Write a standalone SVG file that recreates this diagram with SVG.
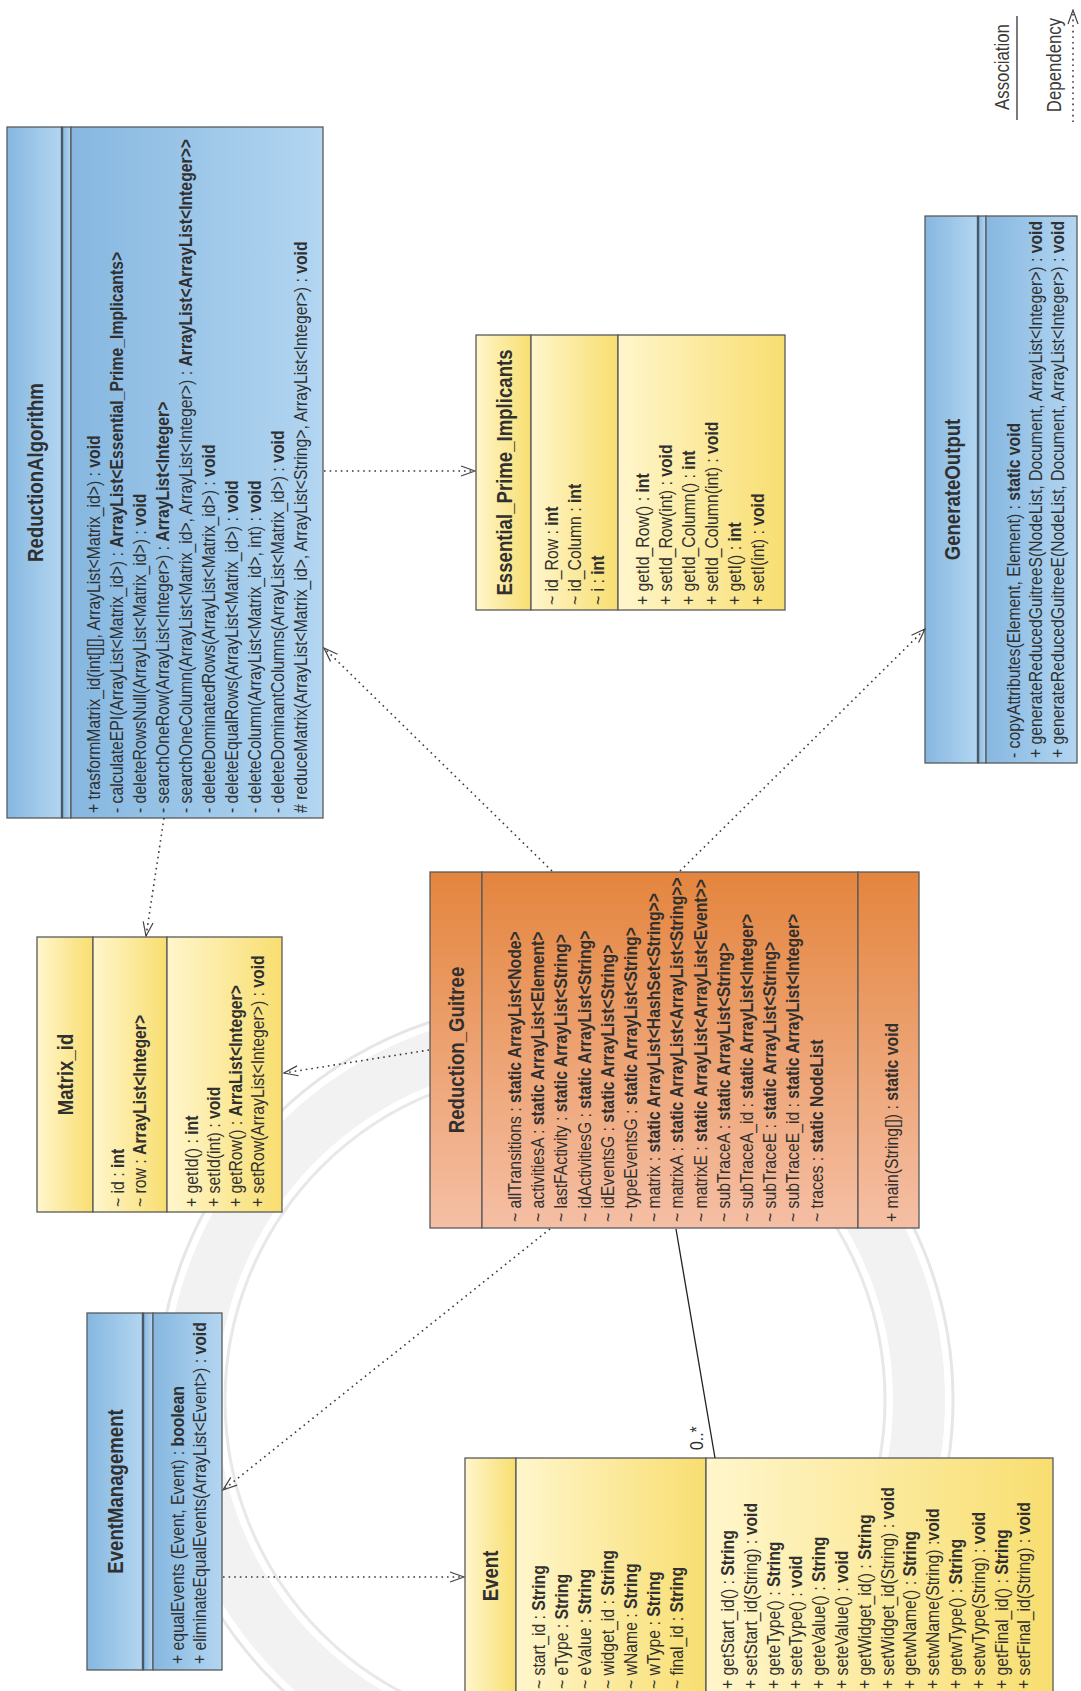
<svg xmlns="http://www.w3.org/2000/svg" width="1081" height="1691" viewBox="0 0 1081 1691">
<style>
text{font-family:"Liberation Sans",Arial,sans-serif;fill:#303030}
.t{font-size:19px}
.b{font-weight:bold}
.ti{font-size:22.7px;font-weight:bold}
.lg{font-size:20.5px;fill:#3a3a3a}
.box{stroke:#5a5a5a;stroke-width:1.3}
.dot{fill:none;stroke:#3a3a3a;stroke-width:1.6;stroke-dasharray:1.6 4}
.sol{fill:none;stroke:#222;stroke-width:1.3}
</style>
<defs>
<linearGradient id="gB" x1="0" y1="0" x2="0" y2="1"><stop offset="0" stop-color="#86b7e0"/><stop offset="1" stop-color="#b3d6f1"/></linearGradient>
<linearGradient id="gY" x1="0" y1="0" x2="0" y2="1"><stop offset="0" stop-color="#fff6cc"/><stop offset="1" stop-color="#f8de70"/></linearGradient>
<linearGradient id="gO" x1="0" y1="0" x2="1" y2="0"><stop offset="0" stop-color="#f5bfa5"/><stop offset="1" stop-color="#e4853e"/></linearGradient>
<marker id="open" markerUnits="userSpaceOnUse" viewBox="0 0 16 12" markerWidth="16" markerHeight="12" refX="15" refY="6" orient="auto"><path d="M1,1 L15,6 L1,11" fill="none" stroke="#444" stroke-width="1.2"/></marker>
</defs>
<rect width="1081" height="1691" fill="#ffffff"/>
<g id="watermark" fill="none">
<circle cx="555" cy="1400" r="398" stroke="#e6e6e6" stroke-width="3"/>
<circle cx="555" cy="1400" r="364" stroke="#f2f2f2" stroke-width="52"/>
<circle cx="555" cy="1400" r="330" stroke="#e8e8e8" stroke-width="3"/>
</g>
<g transform="matrix(0,-1,1,0,0,1691)">
<g id="ReductionAlgorithm">
<rect class="box" x="873" y="7" width="691" height="55" fill="url(#gB)"/>
<rect class="box" x="873" y="62" width="691" height="9" fill="url(#gB)"/>
<rect class="box" x="873" y="71" width="691" height="252" fill="url(#gB)"/>
<line x1="873" y1="62" x2="1564" y2="62" stroke="#4a5866" stroke-width="2.4"/>
<text class="ti" text-anchor="middle" transform="translate(1218.5,43) scale(0.82,1)">ReductionAlgorithm</text>
<g transform="translate(878,0) scale(0.83,1)">
<text class="t" y="100">+ trasformMatrix_id(int[][], ArrayList&lt;Matrix_id&gt;) : <tspan class="b">void</tspan></text>
<text class="t" y="123">- calculateEPI(ArrayList&lt;Matrix_id&gt;) : <tspan class="b">ArrayList&lt;Essential_Prime_Implicants&gt;</tspan></text>
<text class="t" y="146">- deleteRowsNull(ArrayList&lt;Matrix_id&gt;) : <tspan class="b">void</tspan></text>
<text class="t" y="169">- searchOneRow(ArrayList&lt;Integer&gt;) : <tspan class="b">ArrayList&lt;Integer&gt;</tspan></text>
<text class="t" y="192">- searchOneColumn(ArrayList&lt;Matrix_id&gt;, ArrayList&lt;Integer&gt;) : <tspan class="b">ArrayList&lt;ArrayList&lt;Integer&gt;&gt;</tspan></text>
<text class="t" y="215">- deleteDominatedRows(ArrayList&lt;Matrix_id&gt;) : <tspan class="b">void</tspan></text>
<text class="t" y="238">- deleteEqualRows(ArrayList&lt;Matrix_id&gt;) : <tspan class="b">void</tspan></text>
<text class="t" y="261">- deleteColumn(ArrayList&lt;Matrix_id&gt;, int) : <tspan class="b">void</tspan></text>
<text class="t" y="284">- deleteDominantColumns(ArrayList&lt;Matrix_id&gt;) : <tspan class="b">void</tspan></text>
<text class="t" y="307"># reduceMatrix(ArrayList&lt;Matrix_id&gt;, ArrayList&lt;String&gt;, ArrayList&lt;Integer&gt;) : <tspan class="b">void</tspan></text>
</g>
</g>
<g id="Essential_Prime_Implicants">
<rect class="box" x="1081" y="476" width="275" height="55" fill="url(#gY)"/>
<rect class="box" x="1081" y="531" width="275" height="87" fill="url(#gY)"/>
<rect class="box" x="1081" y="618" width="275" height="167" fill="url(#gY)"/>
<text class="ti" text-anchor="middle" transform="translate(1218.5,511.5) scale(0.82,1)">Essential_Prime_Implicants</text>
<g transform="translate(1086,0) scale(0.83,1)">
<text class="t" y="558">~ id_Row : <tspan class="b">int</tspan></text>
<text class="t" y="581">~ id_Column : <tspan class="b">int</tspan></text>
<text class="t" y="604">~ i : <tspan class="b">int</tspan></text>
<text class="t" y="649">+ getId_Row() : <tspan class="b">int</tspan></text>
<text class="t" y="672">+ setId_Row(int) : <tspan class="b">void</tspan></text>
<text class="t" y="695">+ getId_Column() : <tspan class="b">int</tspan></text>
<text class="t" y="718">+ setId_Column(int) : <tspan class="b">void</tspan></text>
<text class="t" y="741">+ getI() : <tspan class="b">int</tspan></text>
<text class="t" y="764">+ setI(int) : <tspan class="b">void</tspan></text>
</g>
</g>
<g id="GenerateOutput">
<rect class="box" x="928" y="925" width="547" height="53" fill="url(#gB)"/>
<rect class="box" x="928" y="978" width="547" height="8" fill="url(#gB)"/>
<rect class="box" x="928" y="986" width="547" height="91" fill="url(#gB)"/>
<line x1="928" y1="978" x2="1475" y2="978" stroke="#4a5866" stroke-width="2.4"/>
<text class="ti" text-anchor="middle" transform="translate(1201.5,959.5) scale(0.82,1)">GenerateOutput</text>
<g transform="translate(933,0) scale(0.83,1)">
<text class="t" y="1020">- copyAttributes(Element, Element) : <tspan class="b">static void</tspan></text>
<text class="t" y="1042">+ generateReducedGuitreeS(NodeList, Document, ArrayList&lt;Integer&gt;) : <tspan class="b">void</tspan></text>
<text class="t" y="1064">+ generateReducedGuitreeE(NodeList, Document, ArrayList&lt;Integer&gt;) : <tspan class="b">void</tspan></text>
</g>
</g>
<g id="Matrix_id">
<rect class="box" x="479" y="37" width="275" height="56" fill="url(#gY)"/>
<rect class="box" x="479" y="93" width="275" height="74" fill="url(#gY)"/>
<rect class="box" x="479" y="167" width="275" height="115" fill="url(#gY)"/>
<text class="ti" text-anchor="middle" transform="translate(616.5,73) scale(0.82,1)">Matrix_id</text>
<g transform="translate(484,0) scale(0.83,1)">
<text class="t" y="124">~ id : <tspan class="b">int</tspan></text>
<text class="t" y="146">~ row : <tspan class="b">ArrayList&lt;Integer&gt;</tspan></text>
<text class="t" y="198">+ getId() : <tspan class="b">int</tspan></text>
<text class="t" y="220">+ setId(int) : <tspan class="b">void</tspan></text>
<text class="t" y="242">+ getRow() : <tspan class="b">ArraList&lt;Integer&gt;</tspan></text>
<text class="t" y="264">+ setRow(ArrayList&lt;Integer&gt;) : <tspan class="b">void</tspan></text>
</g>
</g>
<g id="Reduction_Guitree">
<rect class="box" x="463" y="430" width="356" height="52" fill="url(#gO)"/>
<rect class="box" x="463" y="482" width="356" height="376" fill="url(#gO)"/>
<rect class="box" x="463" y="858" width="356" height="61" fill="url(#gO)"/>
<text class="ti" text-anchor="middle" transform="translate(641,464) scale(0.82,1)">Reduction_Guitree</text>
<g transform="translate(469,0) scale(0.83,1)">
<text class="t" y="521">~ allTransitions : <tspan class="b">static ArrayList&lt;Node&gt;</tspan></text>
<text class="t" y="544.2">~ activitiesA : <tspan class="b">static ArrayList&lt;Element&gt;</tspan></text>
<text class="t" y="567.4">~ lastFActivity : <tspan class="b">static ArrayList&lt;String&gt;</tspan></text>
<text class="t" y="590.6">~ idActivitiesG : <tspan class="b">static ArrayList&lt;String&gt;</tspan></text>
<text class="t" y="613.8">~ idEventsG : <tspan class="b">static ArrayList&lt;String&gt;</tspan></text>
<text class="t" y="637">~ typeEventsG : <tspan class="b">static ArrayList&lt;String&gt;</tspan></text>
<text class="t" y="660.2">~ matrix : <tspan class="b">static ArrayList&lt;HashSet&lt;String&gt;&gt;</tspan></text>
<text class="t" y="683.4">~ matrixA : <tspan class="b">static ArrayList&lt;ArrayList&lt;String&gt;&gt;</tspan></text>
<text class="t" y="706.6">~ matrixE : <tspan class="b">static ArrayList&lt;ArrayList&lt;Event&gt;&gt;</tspan></text>
<text class="t" y="729.8">~ subTraceA : <tspan class="b">static ArrayList&lt;String&gt;</tspan></text>
<text class="t" y="753">~ subTraceA_id : <tspan class="b">static ArrayList&lt;Integer&gt;</tspan></text>
<text class="t" y="776.2">~ subTraceE : <tspan class="b">static ArrayList&lt;String&gt;</tspan></text>
<text class="t" y="799.4">~ subTraceE_id : <tspan class="b">static ArrayList&lt;Integer&gt;</tspan></text>
<text class="t" y="822.6">~ traces : <tspan class="b">static NodeList</tspan></text>
<text class="t" y="898">+ main(String[]) : <tspan class="b">static void</tspan></text>
</g>
</g>
<g id="EventManagement">
<rect class="box" x="21" y="87" width="357" height="56" fill="url(#gB)"/>
<rect class="box" x="21" y="143" width="357" height="10" fill="url(#gB)"/>
<rect class="box" x="21" y="153" width="357" height="69" fill="url(#gB)"/>
<line x1="21" y1="143" x2="378" y2="143" stroke="#4a5866" stroke-width="2.4"/>
<text class="ti" text-anchor="middle" transform="translate(199.5,123) scale(0.82,1)">EventManagement</text>
<g transform="translate(27,0) scale(0.83,1)">
<text class="t" y="184">+ equalEvents (Event, Event) : <tspan class="b">boolean</tspan></text>
<text class="t" y="206">+ eliminateEqualEvents(ArrayList&lt;Event&gt;) : <tspan class="b">void</tspan></text>
</g>
</g>
<g id="Event">
<rect class="box" x="-4" y="465" width="237" height="51" fill="url(#gY)"/>
<rect class="box" x="-4" y="516" width="237" height="190" fill="url(#gY)"/>
<rect class="box" x="-4" y="706" width="237" height="347" fill="url(#gY)"/>
<text class="ti" text-anchor="middle" transform="translate(115,498) scale(0.82,1)">Event</text>
<g transform="translate(2,0) scale(0.83,1)">
<text class="t" y="545">~ start_id : <tspan class="b">String</tspan></text>
<text class="t" y="568">~ eType : <tspan class="b">String</tspan></text>
<text class="t" y="591">~ eValue : <tspan class="b">String</tspan></text>
<text class="t" y="614">~ widget_id : <tspan class="b">String</tspan></text>
<text class="t" y="637">~ wName : <tspan class="b">String</tspan></text>
<text class="t" y="660">~ wType : <tspan class="b">String</tspan></text>
<text class="t" y="683">~ final_id : <tspan class="b">String</tspan></text>
<text class="t" y="734">+ getStart_id() : <tspan class="b">String</tspan></text>
<text class="t" y="756.8">+ setStart_id(String) : <tspan class="b">void</tspan></text>
<text class="t" y="779.6">+ geteType() : <tspan class="b">String</tspan></text>
<text class="t" y="802.4">+ seteType() : <tspan class="b">void</tspan></text>
<text class="t" y="825.2">+ geteValue() : <tspan class="b">String</tspan></text>
<text class="t" y="848">+ seteValue() : <tspan class="b">void</tspan></text>
<text class="t" y="870.8">+ getWidget_id() : <tspan class="b">String</tspan></text>
<text class="t" y="893.6">+ setWidget_id(String) : <tspan class="b">void</tspan></text>
<text class="t" y="916.4">+ getwName() : <tspan class="b">String</tspan></text>
<text class="t" y="939.2">+ setwName(String) :<tspan class="b">void</tspan></text>
<text class="t" y="962">+ getwType() : <tspan class="b">String</tspan></text>
<text class="t" y="984.8">+ setwType(String) : <tspan class="b">void</tspan></text>
<text class="t" y="1007.6">+ getFinal_id() : <tspan class="b">String</tspan></text>
<text class="t" y="1030.4">+ setFinal_id(String) : <tspan class="b">void</tspan></text>
</g>
</g>
<text class="t" transform="translate(241,703) scale(0.83,1)">0..*</text>
<text class="lg" text-anchor="middle" transform="translate(1624,1009) scale(0.82,1)">Association</text>
<text class="lg" text-anchor="middle" transform="translate(1626,1061) scale(0.82,1)">Dependency</text>
</g>
<g id="connectors">
<line class="dot" x1="324" y1="471" x2="475" y2="471" marker-end="url(#open)"/>
<line class="dot" x1="164" y1="818" x2="146" y2="936" marker-end="url(#open)"/>
<line class="dot" x1="552" y1="871" x2="324" y2="648" marker-end="url(#open)"/>
<line class="dot" x1="680" y1="871" x2="925" y2="629" marker-end="url(#open)"/>
<line class="dot" x1="429" y1="1050" x2="284" y2="1073" marker-end="url(#open)"/>
<line class="dot" x1="550" y1="1229" x2="223" y2="1490" marker-end="url(#open)"/>
<line class="dot" x1="223" y1="1577" x2="464" y2="1577" marker-end="url(#open)"/>
<line class="sol" x1="676" y1="1229" x2="715" y2="1458"/>
</g>
<g id="legend">
<line x1="1017" y1="16" x2="1017" y2="120" stroke="#333" stroke-width="1.3"/>
<line class="dot" x1="1073" y1="122" x2="1073" y2="10" marker-end="url(#open)"/>
</g>
</svg>
